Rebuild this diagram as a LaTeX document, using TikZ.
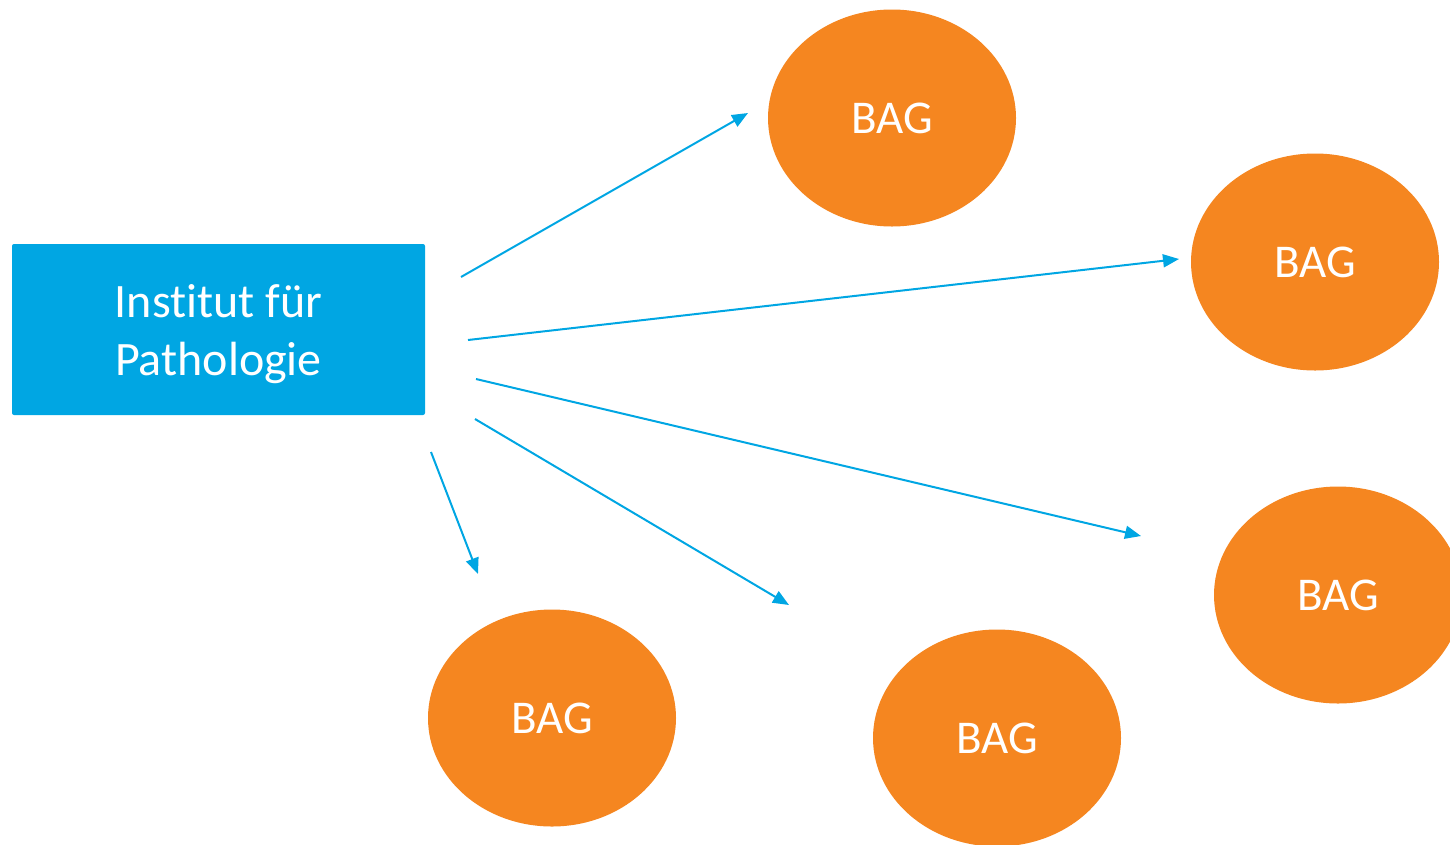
\documentclass[tikz,border=0pt]{standalone}
\usepackage{fontspec}
\setmainfont{Carlito}[Ligatures={NoCommon}]
\usetikzlibrary{shapes.geometric,arrows.meta}
\definecolor{boxblue}{RGB}{0,166,227}
\definecolor{bagorange}{RGB}{245,134,32}
\tikzset{
  bag/.style={ellipse, fill=bagorange, draw=none, minimum width=248pt, minimum height=217pt, inner sep=0pt, text=white, font=\fontsize{47}{52}\selectfont},
  inst/.style={rectangle, fill=boxblue, draw=none, rounded corners=2pt, minimum width=413pt, minimum height=171pt, inner sep=0pt, text=white, align=center, font=\fontsize{48}{58}\selectfont},
  conn/.style={draw=boxblue, line width=2pt, -{Triangle[length=16pt,width=13pt]}}
}
\begin{document}
\begin{tikzpicture}[x=1pt,y=-1pt]
\useasboundingbox (0,0) rectangle (1450,844);
\clip (0,0) rectangle (1450,844);
\node[inst] (ip) at (218.5,329.5) {};
\node[text=white, align=center, font=\fontsize{48}{58}\selectfont, inner sep=0pt] (iptext) at (218.5,334) {Institut für\\Pathologie};
\node[bag] (b1) at (892,118) {BAG};
\node[bag] (b2) at (1315,262) {BAG};
\node[bag] (b3) at (1338,595) {BAG};
\node[bag] (b4) at (552,718) {BAG};
\node[bag] (b5) at (997,738) {BAG};
\coordinate (s1) at (461,277);
\coordinate (e1) at (748,113);
\coordinate (s2) at (468,340);
\coordinate (e2) at (1179,259);
\coordinate (s3) at (476,379);
\coordinate (e3) at (1141,536);
\coordinate (s4) at (475,419);
\coordinate (e4) at (789,605);
\coordinate (s5) at (431,452);
\coordinate (e5) at (478,574);
\draw[conn] (s1) -- (e1);
\draw[conn] (s2) -- (e2);
\draw[conn] (s3) -- (e3);
\draw[conn] (s4) -- (e4);
\draw[conn] (s5) -- (e5);
\end{tikzpicture}
\end{document}
